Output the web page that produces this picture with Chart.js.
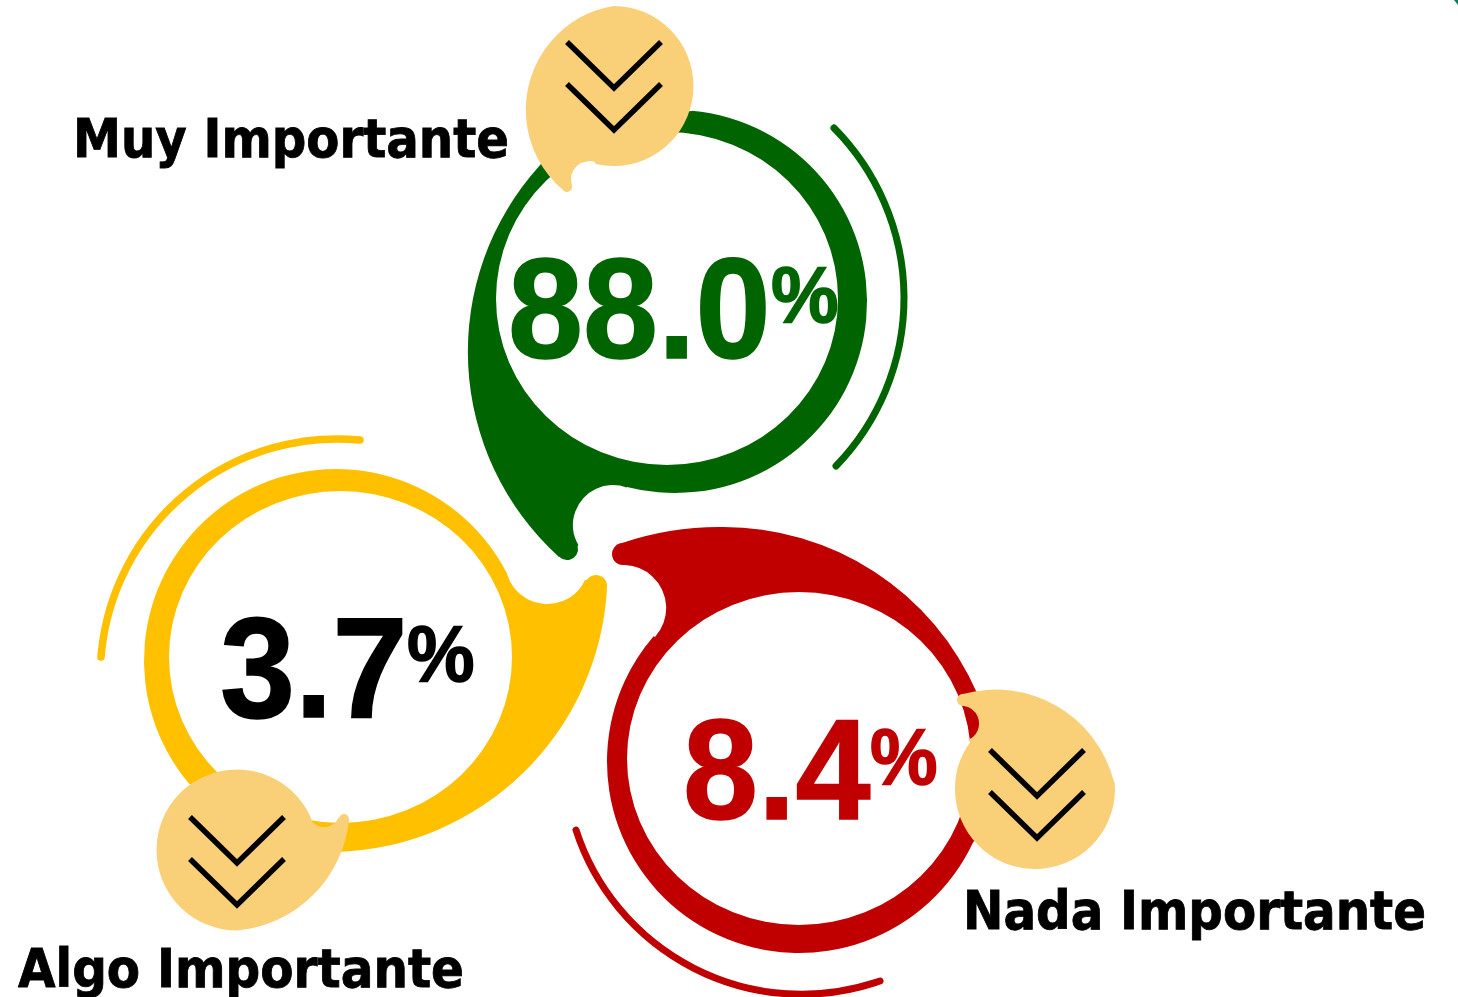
<!DOCTYPE html>
<html>
<head>
<meta charset="utf-8">
<title>Importancia</title>
<script src="https://cdn.jsdelivr.net/npm/chart.js@4"></script>
<style>
html,body{margin:0;padding:0;background:#fff;overflow:hidden;}
#wrap{position:relative;width:1458px;height:997px;overflow:hidden;}
#wrap span{position:absolute;white-space:nowrap;line-height:1;transform-origin:0 0;}
.lbl{font-family:"DejaVu Sans";font-weight:bold;font-stretch:condensed;color:#000;-webkit-text-stroke:0.8px #000;}
.num{font-family:"Liberation Sans";font-weight:bold;-webkit-text-stroke:1.5px currentColor;transform:scaleX(0.95);}
</style>
</head>
<body>
<div id="wrap"><canvas id="mainChart" width="1458" height="997"></canvas></div>
<script>
// datos
const categories=["Muy Importante","Algo Importante","Nada Importante"];
const values=[88.0,3.7,8.4];
const ringColors=["#006400","#FFC000","#C00000"];
const valueColors=["#006400","#000000","#C00000"];

const BUBBLE="#F9D077";

// donde va cada texto (x, linea base, ancho)
const labelPos=[[73,159,436],[18,989,446],[963,931,463]];
const numberPos=[[508,358],[220,717],[683,819]];
const percentPos=[[771,323],[407,682],[870,785]];
const numberSize=142, percentSize=80, labelSize=54;

function rad(d){return d*Math.PI/180;}

// arco de circulo que pasa por tres puntos
function arc3(ctx,a,b,c){
    const d=2*(a[0]*(b[1]-c[1])+b[0]*(c[1]-a[1])+c[0]*(a[1]-b[1]));
    const sa=a[0]*a[0]+a[1]*a[1], sb=b[0]*b[0]+b[1]*b[1], sc=c[0]*c[0]+c[1]*c[1];
    const ux=(sa*(b[1]-c[1])+sb*(c[1]-a[1])+sc*(a[1]-b[1]))/d;
    const uy=(sa*(c[0]-b[0])+sb*(a[0]-c[0])+sc*(b[0]-a[0]))/d;
    const r=Math.hypot(a[0]-ux,a[1]-uy);
    const cross=(b[0]-a[0])*(c[1]-b[1])-(b[1]-a[1])*(c[0]-b[0]);
    ctx.arc(ux,uy,r,Math.atan2(a[1]-uy,a[0]-ux),Math.atan2(c[1]-uy,c[0]-ux),cross<0);
}

function thinArc(ctx,color,width,a,b,c){
    ctx.beginPath();
    arc3(ctx,a,b,c);
    ctx.strokeStyle=color;
    ctx.lineWidth=width;
    ctx.lineCap="round";
    ctx.stroke();
}

function chevrons(ctx,x,y){
    ctx.strokeStyle="#000";
    ctx.lineWidth=5.5;
    ctx.lineCap="butt";
    ctx.lineJoin="miter";
    for(let k=0;k<2;k++){
        const dy=k*42;
        ctx.beginPath();
        ctx.moveTo(x-47,y-46+dy);
        ctx.lineTo(x,y+dy);
        ctx.lineTo(x+47,y-46+dy);
        ctx.stroke();
    }
}

function drawGreen(ctx){
    ctx.beginPath();
    ctx.ellipse(675,301.5,192,191.5,0,rad(-85),rad(104.5),false);
    ctx.arc(613,525,40,rad(-70),rad(150),true);
    ctx.arc(567,549,11,rad(-15),rad(135),false);
    arc3(ctx,[559,557],[468,343],[542,163]);
    ctx.quadraticCurveTo(600,115,692,111);
    ctx.closePath();
    ctx.ellipse(667,298.5,171,166.5,0,0,Math.PI*2);
    ctx.fillStyle=ringColors[0];
    ctx.fill("evenodd");
    thinArc(ctx,ringColors[0],7,[834,128],[904,298],[836,466]);
}

function drawYellow(ctx){
    ctx.beginPath();
    ctx.ellipse(336,660.5,192,191.5,0,rad(140),rad(333),false);
    arc3(ctx,[507,574],[546,604],[585,580]);
    ctx.arc(596,586,11,rad(213),rad(365),false);
    arc3(ctx,[607,588],[540,755],[336,852]);
    ctx.closePath();
    ctx.ellipse(340.5,657,171.5,166,0,0,Math.PI*2);
    ctx.fillStyle=ringColors[1];
    ctx.fill("evenodd");
    thinArc(ctx,ringColors[1],7.5,[360,440],[171,507],[101,657]);
}

function drawRed(ctx){
    ctx.beginPath();
    ctx.arc(623,554,11,rad(85),rad(255),false);
    arc3(ctx,[622,543],[670,531],[722,527]);
    arc3(ctx,[722,527],[860,563],[977,693]);
    ctx.quadraticCurveTo(1000,760,975,840);
    ctx.ellipse(799,761.5,192,191.5,0,rad(25),rad(220.8),false);
    arc3(ctx,[655,637],[666,604],[625,565]);
    ctx.closePath();
    ctx.ellipse(799,758.5,172,166.5,0,0,Math.PI*2);
    ctx.fillStyle=ringColors[2];
    ctx.fill("evenodd");
    thinArc(ctx,ringColors[2],7,[576,830],[733,984],[880,981]);
}

function drawBubbles(ctx){
    ctx.fillStyle=BUBBLE;
    // arriba
    ctx.beginPath();
    ctx.arc(613.5,86,80,rad(-90),rad(103),false);
    arc3(ctx,[595,162],[578,165],[571,178]);
    ctx.arc(567,187,5,rad(-10),rad(140),false);
    arc3(ctx,[563,190],[526,103],[613.5,6]);
    ctx.closePath();
    ctx.fill();
    // abajo izquierda
    ctx.beginPath();
    ctx.arc(237,850,80.5,rad(90),rad(338),false);
    arc3(ctx,[311,820],[322,827],[339,817]);
    ctx.arc(344,819,5,rad(190),rad(370),false);
    arc3(ctx,[349,820],[326,880],[237,930.5]);
    ctx.closePath();
    ctx.fill();
    // abajo derecha
    ctx.beginPath();
    arc3(ctx,[963,694],[1040,698],[1114,782]);
    ctx.arc(1035,789,80,rad(-5),rad(216),false);
    arc3(ctx,[968,740],[979,722],[964,706]);
    ctx.arc(963,700,6,rad(80),rad(270),false);
    ctx.closePath();
    ctx.fill();

    chevrons(ctx,614,88);
    chevrons(ctx,237,863);
    chevrons(ctx,1037,796);
}

const infographic={
    id:"infographic",
    afterDraw(chart){
        const ctx=chart.ctx;
        ctx.save();
        drawGreen(ctx);
        drawYellow(ctx);
        drawRed(ctx);
        drawBubbles(ctx);
        // esquina de arriba a la derecha
        ctx.beginPath();
        ctx.moveTo(1454,0);ctx.lineTo(1458,0);ctx.lineTo(1458,5);
        ctx.closePath();
        ctx.fillStyle="#0F7A5C";
        ctx.fill();
        ctx.restore();
    }
};

new Chart(document.getElementById("mainChart"),{
    type:"scatter",
    data:{
        labels:categories,
        datasets:[{label:"%",data:values.map((v,i)=>({x:i,y:v})),pointRadius:0}]
    },
    options:{
        responsive:false,
        animation:false,
        layout:{padding:0},
        plugins:{legend:{display:false},tooltip:{enabled:false}},
        scales:{x:{display:false},y:{display:false}}
    },
    plugins:[infographic]
});

// textos
function addText(txt,cls,size,color,x,base,ascent){
    const s=document.createElement("span");
    s.className=cls;
    s.textContent=txt;
    s.style.fontSize=size+"px";
    s.style.color=color;
    s.style.left=x+"px";
    s.style.top=(base-ascent*size)+"px";
    document.getElementById("wrap").appendChild(s);
    return s;
}

for(let i=0;i<categories.length;i++){
    const l=addText(categories[i],"lbl",labelSize,"#000",labelPos[i][0],labelPos[i][1],0.87);
    l.style.transform="scaleX("+(labelPos[i][2]/l.getBoundingClientRect().width)+")";
    addText(values[i].toFixed(1),"num",numberSize,valueColors[i],numberPos[i][0],numberPos[i][1],0.8465);
    addText("%","num",percentSize,valueColors[i],percentPos[i][0],percentPos[i][1],0.8465);
}
</script>
</body>
</html>
